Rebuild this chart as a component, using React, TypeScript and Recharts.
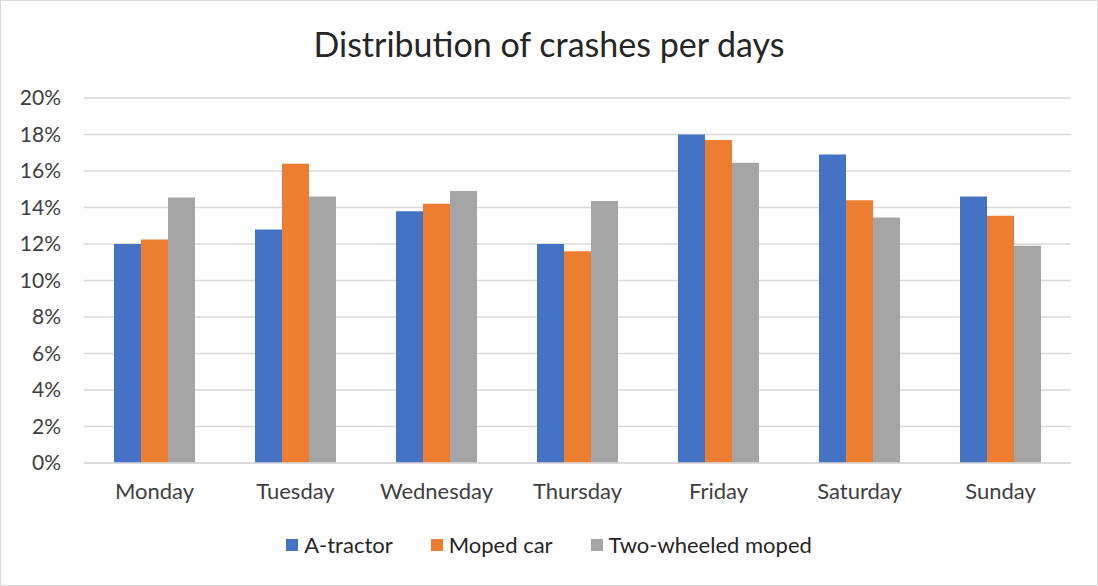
import React from "react";
import { Bar, BarChart, CartesianGrid, XAxis, YAxis } from "recharts";

const days = ["Monday", "Tuesday", "Wednesday", "Thursday", "Friday", "Saturday", "Sunday"];
const aTractor = [12.0, 12.8, 13.8, 12.0, 18.0, 16.9, 14.6];
const mopedCar = [12.25, 16.4, 14.2, 11.6, 17.7, 14.4, 13.55];
const twoWheeled = [14.55, 14.6, 14.9, 14.35, 16.45, 13.45, 11.9];
const yTicks = [0, 2, 4, 6, 8, 10, 12, 14, 16, 18, 20];

const series = [
  { key: "aTractor", name: "A-tractor", color: "#4472C4" },
  { key: "mopedCar", name: "Moped car", color: "#ED7D31" },
  { key: "twoWheeled", name: "Two-wheeled moped", color: "#A5A5A5" },
];

const data = days.map((day, i) => ({
  day,
  aTractor: aTractor[i],
  mopedCar: mopedCar[i],
  twoWheeled: twoWheeled[i],
}));

const FONT = "Lato, 'Open Sans', sans-serif";

export default function App() {
  return (
    <div
      style={{
        position: "absolute",
        left: 0,
        top: 0,
        width: 1096,
        height: 584,
        border: "1px solid #d9d9d9",
        background: "#fff",
        fontFamily: FONT,
      }}
    >
      <div
        style={{
          position: "absolute",
          top: 22,
          left: 0,
          width: "100%",
          textAlign: "center",
          fontSize: 34,
          color: "#262626",
        }}
      >
        Distribution of crashes per days
      </div>
      <BarChart
        width={1096}
        height={584}
        data={data}
        barGap={0}
        barSize={27}
        margin={{ top: 97, right: 26, left: 0, bottom: 82 }}
      >
        <CartesianGrid vertical={false} stroke="#d9d9d9" strokeWidth={1.5} />
        <XAxis
          dataKey="day"
          axisLine={{ stroke: "#d9d9d9", strokeWidth: 1.5 }}
          tickLine={false}
          height={40}
          tickMargin={14}
          tick={{ fontSize: 22, fill: "#404040", fontFamily: FONT }}
        />
        <YAxis
          domain={[0, 20]}
          ticks={yTicks}
          axisLine={false}
          tickLine={false}
          width={83}
          tickMargin={17}
          tickFormatter={(v: number) => `${v}%`}
          tick={{ fontSize: 21, fill: "#404040", fontFamily: FONT }}
        />
        {series.map((s) => (
          <Bar key={s.key} dataKey={s.key} name={s.name} fill={s.color} isAnimationActive={false} />
        ))}
      </BarChart>
      {/* legend drawn by hand so the spacing matches the Excel look */}
      <div
        style={{
          position: "absolute",
          top: 530,
          left: 0,
          width: "100%",
          display: "flex",
          justifyContent: "center",
          gap: 38,
          fontSize: 22,
          color: "#262626",
        }}
      >
        {series.map((s) => (
          <div key={s.key} style={{ display: "flex", alignItems: "center", gap: 6 }}>
            <span style={{ width: 12, height: 12, background: s.color, display: "inline-block" }} />
            <span>{s.name}</span>
          </div>
        ))}
      </div>
    </div>
  );
}
